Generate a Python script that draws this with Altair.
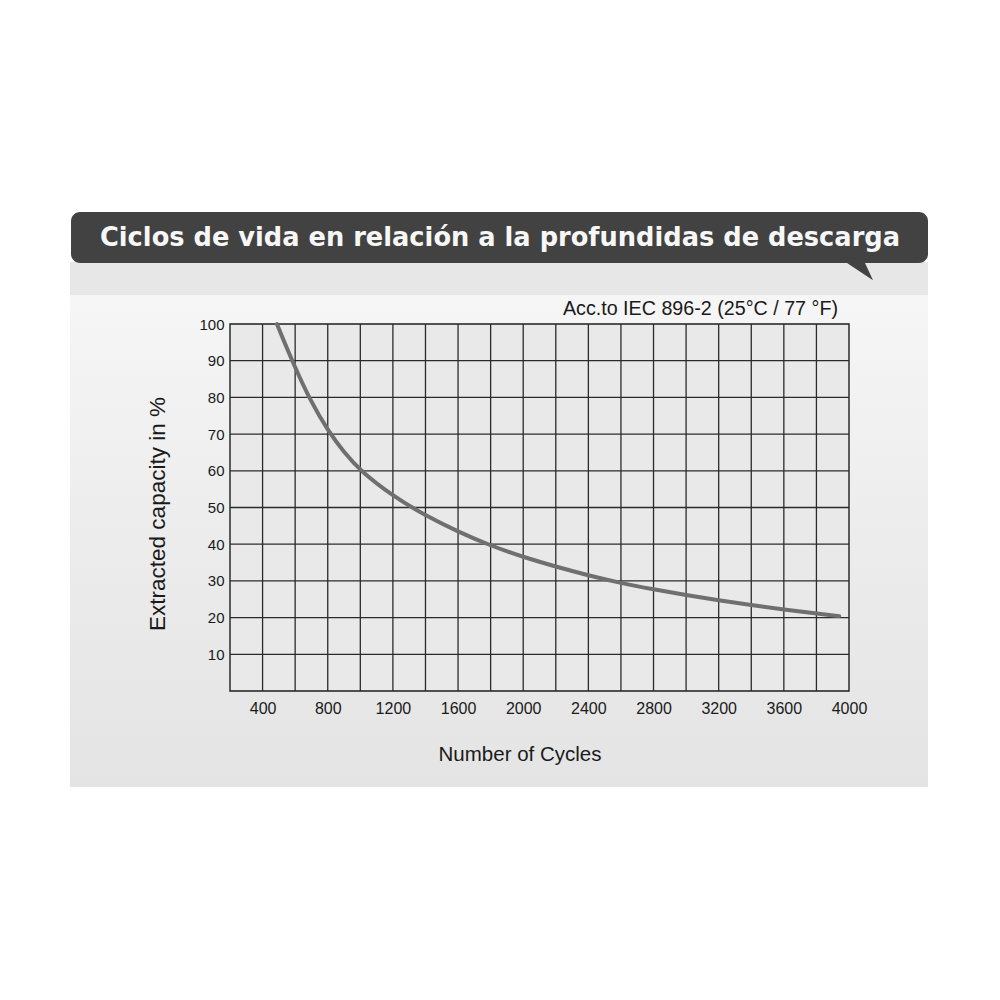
import altair as alt
import pandas as pd

# ---- data ----
cycles = [488, 600, 700, 800, 900, 1000, 1200, 1400, 1600, 1800, 2000,
          2200, 2400, 2600, 2800, 3000, 3200, 3400, 3600, 3800, 3940]
capacity = [100, 88, 78.6, 71, 65, 60, 53.1, 47.8, 43.4, 39.6, 36.5,
            33.9, 31.5, 29.4, 27.7, 26.1, 24.7, 23.4, 22.2, 21.1, 20.4]

x_grid = [400, 600, 800, 1000, 1200, 1400, 1600, 1800, 2000, 2200, 2400, 2600, 2800,
          3000, 3200, 3400, 3600, 3800]
y_grid = [10, 20, 30, 40, 50, 60, 70, 80, 90]
x_ticks = [400, 800, 1200, 1600, 2000, 2400, 2800, 3200, 3600, 4000]
y_ticks = [10, 20, 30, 40, 50, 60, 70, 80, 90, 100]

title_text = "Ciclos de vida en relación a la profundidas de descarga"
note_text = "Acc.to IEC 896-2 (25°C / 77 °F)"
x_title = "Number of Cycles"
y_title = "Extracted capacity in %"

# ---- layout (plot area placed on the page) ----
W, H = 619, 367
PL, PT = 222, 316
PR, PB = 984 - PL - W, 984 - PT - H

LABEL_FONT = "Liberation Sans Narrow, Arial Narrow, Liberation Sans, Arial"
TEXT_FONT = "Liberation Sans, Arial"

xs = alt.Scale(domain=[200, 4000], nice=False, zero=False)
ys = alt.Scale(domain=[0, 100], nice=False, zero=False)

x_axis = alt.Axis(values=x_ticks, title=None, grid=False, domain=False, ticks=False,
                  labelFont=LABEL_FONT, labelFontSize=16, labelColor="#1a1a1a",
                  labelPadding=9, format="d", labelFlush=False, zindex=2)
y_axis = alt.Axis(values=y_ticks, title=None, grid=False, domain=False, ticks=False,
                  labelFont=LABEL_FONT, labelFontSize=15, labelColor="#1a1a1a",
                  labelPadding=6, format="d", labelFlush=False, zindex=2)

one = alt.Data(values=[{}])

# panel band and lower gradient panel
band = alt.Chart(one).mark_rect(color="#e7e7e7").encode(
    x=alt.value(-160), x2=alt.value(698), y=alt.value(-62), y2=alt.value(-29))
panel = alt.Chart(one).mark_rect(
    color=alt.LinearGradient(gradient="linear", x1=0, y1=0, x2=0, y2=1,
                             stops=[alt.GradientStop(color="#f6f6f6", offset=0),
                                    alt.GradientStop(color="#ececec", offset=0.5),
                                    alt.GradientStop(color="#e4e4e4", offset=1)])
).encode(x=alt.value(-160), x2=alt.value(698), y=alt.value(-29), y2=alt.value(463))

banner = alt.Chart(one).mark_rect(color="#424242", cornerRadius=9).encode(
    x=alt.value(-159), x2=alt.value(698), y=alt.value(-112), y2=alt.value(-61))
tail = alt.Chart(one).mark_point(
    shape="M-0.95,-0.75 L1,0.55 L0.4,-0.75 Z", filled=True, color="#424242",
    opacity=1, size=1156, strokeWidth=0).encode(x=alt.value(626), y=alt.value(-53))

title = alt.Chart(one).mark_text(
    text=title_text, font="DejaVu Sans", fontSize=25.7, fontWeight="bold", color="#f7f7f7",
    align="center", baseline="alphabetic").encode(x=alt.value(270), y=alt.value(-78.5))

note = alt.Chart(one).mark_text(
    text=note_text, font=TEXT_FONT, fontSize=19.7, color="#1a1a1a",
    align="right", baseline="alphabetic").encode(x=alt.value(608), y=alt.value(-9.5))

xt = alt.Chart(one).mark_text(
    text=x_title, font=TEXT_FONT, fontSize=20.5, color="#1a1a1a",
    align="center", baseline="middle").encode(x=alt.value(290), y=alt.value(431))
yt = alt.Chart(one).mark_text(
    text=y_title, font=TEXT_FONT, fontSize=22.5, color="#1a1a1a", angle=270,
    align="center", baseline="middle").encode(x=alt.value(-72), y=alt.value(190))

# plot area fill and border
plotbg = alt.Chart(one).mark_rect(color="#e9e9e9", stroke="#1e1e1e", strokeWidth=1.4).encode(
    x=alt.value(0), x2=alt.value(W), y=alt.value(0), y2=alt.value(H))

vgrid = alt.Chart(pd.DataFrame({"gx": x_grid})).mark_rule(color="#2b2b2b", strokeWidth=1.3).encode(
    x=alt.X("gx:Q", scale=xs, axis=x_axis))
hgrid = alt.Chart(pd.DataFrame({"gy": y_grid})).mark_rule(color="#2b2b2b", strokeWidth=1.3).encode(
    y=alt.Y("gy:Q", scale=ys, axis=y_axis))

curve_df = pd.DataFrame({"cycles": cycles, "capacity": capacity})
curve = alt.Chart(curve_df).mark_line(
    color="#6f6f6f", strokeWidth=4, interpolate="basis", strokeCap="round"
).encode(
    x=alt.X("cycles:Q", scale=xs, axis=x_axis),
    y=alt.Y("capacity:Q", scale=ys, axis=y_axis),
)

chart = alt.layer(band, panel, banner, tail, plotbg, vgrid, hgrid, curve,
                  title, note, xt, yt).properties(
    width=W, height=H,
    autosize=alt.AutoSizeParams(type="none"),
    padding={"left": PL, "top": PT, "right": PR, "bottom": PB},
    background="#ffffff",
).configure_view(stroke=None)

chart.save("out.html", embed_options={"renderer": "svg", "actions": False})
